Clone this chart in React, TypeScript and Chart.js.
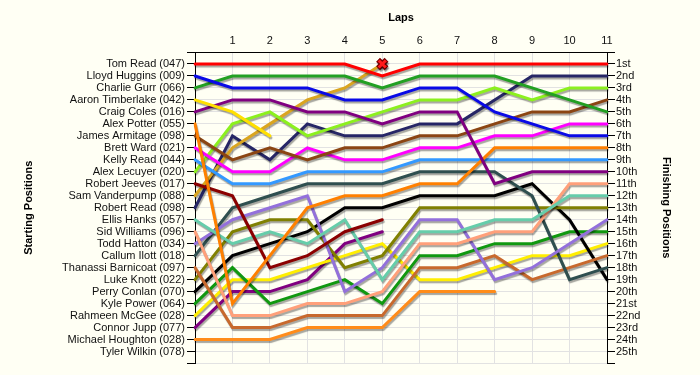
import React, { useEffect, useRef } from 'react';
import { Chart, registerables } from 'chart.js';

Chart.register(...registerables);

// ---------- DATA ----------
const lapLabels = ['0', '1', '2', '3', '4', '5', '6', '7', '8', '9', '10', '11'];

const startNames = [
  'Tom Read (047)', 'Lloyd Huggins (009)', 'Charlie Gurr (066)', 'Aaron Timberlake (042)',
  'Craig Coles (016)', 'Alex Potter (055)', 'James Armitage (098)', 'Brett Ward (021)',
  'Kelly Read (044)', 'Alex Lecuyer (020)', 'Robert Jeeves (017)', 'Sam Vanderpump (088)',
  'Robert Read (098)', 'Ellis Hanks (057)', 'Sid Williams (096)', 'Todd Hatton (034)',
  'Callum Ilott (018)', 'Thanassi Barnicoat (097)', 'Luke Knott (022)', 'Perry Conlan (070)',
  'Kyle Power (064)', 'Rahmeen McGee (028)', 'Connor Jupp (077)', 'Michael Houghton (028)',
  'Tyler Wilkin (078)',
];

const finishLabels = [
  '1st', '2nd', '3rd', '4th', '5th', '6th', '7th', '8th', '9th', '10th', '11th', '12th', '13th',
  '14th', '15th', '16th', '17th', '18th', '19th', '20th', '21st', '22nd', '23rd', '24th', '25th',
];

// position of each driver at laps 0..11 (null = retired)
const tomRead = [1, 1, 1, 1, 1, 2, 1, 1, 1, 1, 1, 1];
const lloydHuggins = [2, 3, 3, 3, 4, 4, 3, 3, 5, 6, 7, 7];
const charlieGurr = [3, 2, 2, 2, 2, 3, 2, 2, 2, 3, 4, 5];
const aaronTimberlake = [4, 5, 7, null, null, null, null, null, null, null, null, null];
const craigColes = [5, 4, 4, 5, 5, 6, 5, 5, 11, 10, 10, 10];
const alexPotter = [6, 21, 17, 13, 12, 12, 11, 11, 8, 8, 8, 8];
const jamesArmitage = [7, 9, 8, 9, 8, 8, 7, 7, 6, 5, 5, 4];
const brettWard = [8, 10, 10, 8, 9, 9, 8, 8, 7, 7, 6, 6];
const kellyRead = [9, 11, 11, 10, 10, 10, 9, 9, 9, 9, 9, 9];
const alexLecuyer = [10, 6, 5, 7, 6, 5, 4, 4, 3, 4, 3, 3];
const robertJeeves = [11, 12, 18, 17, 15, 14, null, null, null, null, null, null];
const samVanderpump = [12, 8, 6, 4, 3, 1, null, null, null, null, null, null];
const robertRead = [13, 7, 9, 6, 7, 7, 6, 6, 4, 2, 2, 2];
const ellisHanks = [14, 16, 15, 16, 14, 19, 15, 15, 14, 14, 12, 12];
const sidWilliams = [15, 22, 22, 21, 21, 20, 16, 16, 15, 15, 11, 11];
const toddHatton = [16, 14, 13, 12, 20, 18, 14, 14, 19, 18, 16, 14];
const callumIlott = [17, 13, 12, 11, 11, 11, 10, 10, 10, 12, 19, 18];
const thanassiBarnicoat = [18, 23, 23, 22, 22, 22, 18, 18, 17, 19, 18, 17];
const lukeKnott = [19, 15, 14, 14, 18, 17, 13, 13, 13, 13, 13, 13];
const perryConlan = [20, 17, 16, 15, 13, 13, 12, 12, 12, 11, 14, 19];
const kylePower = [21, 18, 21, 20, 19, 21, 17, 17, 16, 16, 15, 15];
const rahmeenMcGee = [22, 19, 19, 18, 17, 16, 19, 19, 18, 17, 17, 16];
const connorJupp = [23, 20, 20, 19, 16, 15, null, null, null, null, null, null];
const michaelHoughton = [24, 24, 24, 23, 23, 23, 20, 20, 20, null, null, null];

const driverSeries = [
  tomRead, lloydHuggins, charlieGurr, aaronTimberlake, craigColes, alexPotter, jamesArmitage,
  brettWard, kellyRead, alexLecuyer, robertJeeves, samVanderpump, robertRead, ellisHanks,
  sidWilliams, toddHatton, callumIlott, thanassiBarnicoat, lukeKnott, perryConlan, kylePower,
  rahmeenMcGee, connorJupp, michaelHoughton,
];

// crash marker
const crashDriverIndex = 11; // Sam Vanderpump
const crashLap = 5;

// ---------- STYLES ----------
const driverColors = [
  '#ff0000', '#0a0ae6', '#22a022', '#ffdf00', '#800080', '#ff8000', '#8b4513', '#ff00ff',
  '#3399ff', '#8cf01e', '#8b0000', '#daa520', '#262666', '#66cdaa', '#ffa07a', '#9370db',
  '#2f4f4f', '#c8692d', '#808000', '#000000', '#109810', '#ffee00', '#800080', '#ff8c1a',
];

const BG = '#fffff4';
const GRID = '#e2e2e2';
const FONT = 'Liberation Sans, Arial, sans-serif';

const bgPlugin = {
  id: 'bg',
  beforeDraw(chart: any) {
    const c = chart.ctx;
    c.save();
    c.fillStyle = BG;
    c.fillRect(0, 0, chart.width, chart.height);
    c.restore();
  },
};

const shadowPlugin = {
  id: 'lineShadow',
  beforeDatasetsDraw(chart: any) {
    const c = chart.ctx;
    c.save();
    c.shadowColor = 'rgba(0,0,0,0.35)';
    c.shadowOffsetX = 1;
    c.shadowOffsetY = 2;
    c.shadowBlur = 1;
  },
  afterDatasetsDraw(chart: any) {
    chart.ctx.restore();
  },
};

export default function App() {
  const ref = useRef<HTMLCanvasElement>(null);

  useEffect(() => {
    const markerData = lapLabels.map((_, i) =>
      i === crashLap ? driverSeries[crashDriverIndex][crashLap] : null
    );

    const datasets: any[] = [
      {
        label: 'crash',
        data: markerData,
        showLine: false,
        pointStyle: 'crossRot',
        pointRadius: 5,
        pointBorderWidth: 3,
        pointBorderColor: '#ff1a1a',
        borderColor: '#ff1a1a',
        yAxisID: 'y',
      },
      {
        label: 'crashOutline',
        data: markerData,
        showLine: false,
        pointStyle: 'crossRot',
        pointRadius: 6,
        pointBorderWidth: 5.5,
        pointBorderColor: '#7a0000',
        borderColor: '#7a0000',
        yAxisID: 'y',
      },
      ...driverSeries.map((s, i) => ({
        label: startNames[i],
        data: s,
        borderColor: driverColors[i],
        backgroundColor: driverColors[i],
        borderWidth: 3,
        pointRadius: 0,
        tension: 0,
        spanGaps: false,
        fill: false,
        yAxisID: 'y',
      })),
    ];

    const rowTicks = () => Array.from({ length: 27 }, (_, i) => ({ value: i }));

    const chart = new Chart(ref.current as HTMLCanvasElement, {
      type: 'line',
      data: { labels: lapLabels, datasets },
      plugins: [bgPlugin, shadowPlugin],
      options: {
        responsive: false,
        devicePixelRatio: 1,
        animation: false,
        layout: { padding: { top: 0, left: 0, right: 0, bottom: 11 } },
        plugins: { legend: { display: false }, tooltip: { enabled: false } },
        elements: { line: { borderCapStyle: 'round', borderJoinStyle: 'miter' } },
        scales: {
          x: {
            type: 'category',
            position: 'top',
            offset: false,
            grid: { color: GRID, drawTicks: false },
            border: { color: '#000', width: 1 },
            ticks: {
              autoSkip: false,
              maxRotation: 0,
              padding: 4,
              color: '#111',
              font: { family: FONT, size: 11 },
              callback: (_v: any, i: number) => (i === 0 ? '' : lapLabels[i]),
            },
            title: {
              display: true,
              text: 'Laps',
              color: '#000',
              font: { family: FONT, size: 11, weight: 'bold' },
              padding: { top: 11, bottom: 0 },
            },
            afterFit: (s: any) => { s.height = 52; },
          },
          y: {
            type: 'linear',
            position: 'left',
            reverse: true,
            min: 0,
            max: 26,
            afterBuildTicks: (s: any) => { s.ticks = rowTicks(); },
            grid: { color: GRID, tickColor: '#000', tickLength: 8 },
            border: { color: '#000', width: 1 },
            ticks: {
              autoSkip: false,
              padding: 2,
              color: '#111',
              font: { family: FONT, size: 11 },
              callback: (v: any) => startNames[Number(v) - 1] ?? '',
            },
            title: {
              display: true,
              text: 'Starting Positions',
              color: '#000',
              font: { family: FONT, size: 11, weight: 'bold' },
              padding: { top: 22, bottom: 0 },
            },
            afterFit: (s: any) => { s.width = 195; },
          },
          y2: {
            type: 'linear',
            position: 'right',
            reverse: true,
            min: 0,
            max: 26,
            afterBuildTicks: (s: any) => { s.ticks = rowTicks(); },
            grid: { drawOnChartArea: false, color: '#000', tickColor: '#000', tickLength: 8 },
            border: { color: '#000', width: 1 },
            ticks: {
              autoSkip: false,
              padding: 1,
              color: '#111',
              font: { family: FONT, size: 11 },
              callback: (v: any) => finishLabels[Number(v) - 1] ?? '',
            },
            title: {
              display: true,
              text: 'Finishing Positions',
              color: '#000',
              font: { family: FONT, size: 11, weight: 'bold' },
              padding: { top: 27, bottom: 0 },
            },
            afterFit: (s: any) => { s.width = 93; },
          },
        },
      } as any,
    });

    return () => chart.destroy();
  }, []);

  return (
    <div style={{ position: 'fixed', left: 0, top: 0, width: 700, height: 375, background: BG }}>
      <canvas ref={ref} width={700} height={375} style={{ display: 'block', width: 700, height: 375 }} />
    </div>
  );
}
